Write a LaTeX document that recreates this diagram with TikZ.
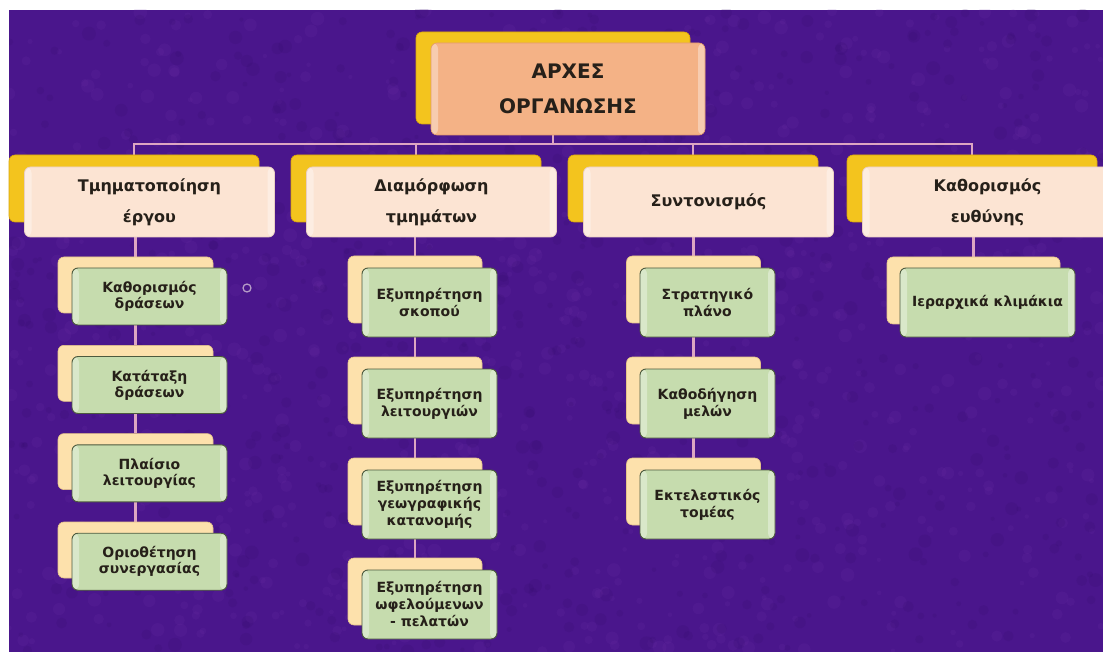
\documentclass[tikz,border=0pt]{standalone}
\usepackage{fontspec}
\setmainfont{DejaVu Sans}
\definecolor{bgc}{HTML}{4A168C}
\definecolor{bgl}{HTML}{7A3AB0}
\definecolor{bgd}{HTML}{300A66}
\definecolor{linec}{HTML}{DDA6C2}
\definecolor{goldc}{HTML}{F3C41E}
\definecolor{goldd}{HTML}{D9A60A}
\definecolor{peachc}{HTML}{F4B286}
\definecolor{peachd}{HTML}{E39B6C}
\definecolor{lightc}{HTML}{FCE4D3}
\definecolor{lightd}{HTML}{E9CFC2}
\definecolor{creamc}{HTML}{FDE1AC}
\definecolor{creamd}{HTML}{E6C48A}
\definecolor{greenc}{HTML}{C6DCAE}
\definecolor{greend}{HTML}{4D5A3E}
\definecolor{txtc}{HTML}{262019}
\definecolor{ringc}{HTML}{B49AC6}
\pgfdeclarelayer{bg}
\pgfdeclarelayer{lines}
\pgfsetlayers{bg,lines,main}
\begin{document}
\begin{tikzpicture}[x=1pt,y=-1pt,
  conn/.style={draw=linec,line width=2.4pt},
  bevel/.style={path picture={%
      \fill[white,opacity=0.35] (path picture bounding box.south west) rectangle ([xshift=7pt]path picture bounding box.north west);
      \fill[white,opacity=0.35] (path picture bounding box.south east) rectangle ([xshift=-7pt]path picture bounding box.north east);}},
  boxbase/.style={rounded corners=6pt,inner sep=0pt,align=center,text=txtc,font=\bfseries},
  topback/.style={boxbase,fill=goldc,draw=goldd,line width=0.6pt,minimum width=274pt,minimum height=92pt},
  topfront/.style={boxbase,bevel,fill=peachc,draw=peachd,line width=0.6pt,minimum width=274pt,minimum height=92pt,font=\bfseries\fontsize{20}{35}\selectfont},
  lback/.style={boxbase,fill=goldc,draw=goldd,line width=0.6pt,minimum width=250pt,minimum height=67pt},
  lfront/.style={boxbase,bevel,fill=lightc,draw=lightd,line width=0.8pt,minimum width=250pt,minimum height=70pt,font=\bfseries\fontsize{16}{31}\selectfont},
  sback/.style={boxbase,fill=creamc,draw=creamd,line width=0.6pt},
  sfront/.style={boxbase,bevel,fill=greenc,draw=greend,line width=0.9pt,font=\bfseries\fontsize{14}{17}\selectfont},
  c1back/.style={sback,minimum width=155pt,minimum height=56pt},
  c1front/.style={sfront,minimum width=155pt,minimum height=57pt,font=\bfseries\fontsize{14}{16}\selectfont},
  c2back/.style={sback,minimum width=134pt,minimum height=67pt},
  c2front/.style={sfront,minimum width=135pt,minimum height=69pt},
  c4back/.style={sback,minimum width=173pt,minimum height=67pt},
  c4front/.style={sfront,minimum width=175pt,minimum height=69pt}
]
\useasboundingbox (0,0) rectangle (1103,652);
\begin{pgfonlayer}{bg}
  \fill[white] (0,0) rectangle (1103,652);
  \fill[bgc] (9,10) rectangle (1103,652);
  \begin{scope}
    \clip (9,10) rectangle (1103,652);
    \pgfmathsetseed{7}
    \foreach \i in {1,...,900}{%
      \pgfmathsetmacro\rx{9+1094*rnd}%
      \pgfmathsetmacro\ry{10+642*rnd}%
      \pgfmathsetmacro\rr{2+5*rnd}%
      \fill[bgl,opacity=0.12] (\rx,\ry) circle[radius=\rr pt];}
    \foreach \i in {1,...,700}{%
      \pgfmathsetmacro\rx{9+1094*rnd}%
      \pgfmathsetmacro\ry{10+642*rnd}%
      \pgfmathsetmacro\rr{2+5*rnd}%
      \fill[bgd,opacity=0.15] (\rx,\ry) circle[radius=\rr pt];}
  \end{scope}
\end{pgfonlayer}

% top
\node[topback] (topb) at (553,78) {};
\node[topfront] (top) at (568,89) {ΑΡΧΕΣ\\ΟΡΓΑΝΩΣΗΣ};

% level 1
\node[lback] (l1ab) at (134,188.5) {};
\node[lfront] (l1a) at (149.5,202) {Τμηματοποίηση\\έργου};
\node[lback] (l1bb) at (416,188.5) {};
\node[lfront] (l1b) at (431.5,202) {Διαμόρφωση\\τμημάτων};
\node[lback] (l1cb) at (693,188.5) {};
\node[lfront] (l1c) at (708.5,202) {Συντονισμός};
\node[lback] (l1db) at (972,188.5) {};
\node[lfront] (l1d) at (987.5,202) {Καθορισμός\\ευθύνης};

% column 1
\node[c1back] (c1ab) at (135.5,285) {};
\node[c1front] (c1a) at (149.5,296.5) {Καθορισμός\\δράσεων};
\node[c1back] (c1bb) at (135.5,373.3) {};
\node[c1front] (c1b) at (149.5,385) {Κατάταξη\\δράσεων};
\node[c1back] (c1cb) at (135.5,461.6) {};
\node[c1front] (c1c) at (149.5,473.3) {Πλαίσιο\\λειτουργίας};
\node[c1back] (c1db) at (135.5,550) {};
\node[c1front] (c1d) at (149.5,561.7) {Οριοθέτηση\\συνεργασίας};

% column 2
\node[c2back] (c2ab) at (415,289.5) {};
\node[c2front] (c2a) at (429.5,302.5) {Εξυπηρέτηση\\σκοπού};
\node[c2back] (c2bb) at (415,390.5) {};
\node[c2front] (c2b) at (429.5,403.5) {Εξυπηρέτηση\\λειτουργιών};
\node[c2back] (c2cb) at (415,491.5) {};
\node[c2front] (c2c) at (429.5,504.5) {Εξυπηρέτηση\\γεωγραφικής\\κατανομής};
\node[c2back] (c2db) at (415,591.5) {};
\node[c2front] (c2d) at (429.5,604.5) {Εξυπηρέτηση\\ωφελούμενων\\- πελατών};

% column 3
\node[c2back] (c3ab) at (693.5,289.5) {};
\node[c2front] (c3a) at (707.5,302.5) {Στρατηγικό\\πλάνο};
\node[c2back] (c3bb) at (693.5,390.5) {};
\node[c2front] (c3b) at (707.5,403.5) {Καθοδήγηση\\μελών};
\node[c2back] (c3cb) at (693.5,491.5) {};
\node[c2front] (c3c) at (707.5,504.5) {Εκτελεστικός\\τομέας};

% column 4
\node[c4back] (c4ab) at (973.5,290.5) {};
\node[c4front] (c4a) at (987.5,302.5) {Ιεραρχικά κλιμάκια};

% small ring
\node[draw=ringc,line width=1.3pt,circle,minimum size=8pt,inner sep=0pt] (ring) at (247,288) {};

% connectors
\coordinate (bus) at (553,144);
\begin{pgfonlayer}{lines}
  \draw[conn] (topb.south) -- (bus);
  \draw[conn] (l1ab.north) -- (l1ab.north |- bus) -- (l1db.north |- bus) -- (l1db.north);
  \draw[conn] (l1bb.north) -- (l1bb.north |- bus);
  \draw[conn] (l1cb.north) -- (l1cb.north |- bus);
  \draw[conn] (c1ab.north) -- (c1ab.north |- l1a.south);
  \draw[conn] (c1bb.north) -- (c1bb.north |- c1a.south);
  \draw[conn] (c1cb.north) -- (c1cb.north |- c1b.south);
  \draw[conn] (c1db.north) -- (c1db.north |- c1c.south);
  \draw[conn] (c2ab.north) -- (c2ab.north |- l1b.south);
  \draw[conn] (c2bb.north) -- (c2bb.north |- c2a.south);
  \draw[conn] (c2cb.north) -- (c2cb.north |- c2b.south);
  \draw[conn] (c2db.north) -- (c2db.north |- c2c.south);
  \draw[conn] (c3ab.north) -- (c3ab.north |- l1c.south);
  \draw[conn] (c3bb.north) -- (c3bb.north |- c3a.south);
  \draw[conn] (c3cb.north) -- (c3cb.north |- c3b.south);
  \draw[conn] (c4ab.north) -- (c4ab.north |- l1d.south);
\end{pgfonlayer}
\end{tikzpicture}
\end{document}
